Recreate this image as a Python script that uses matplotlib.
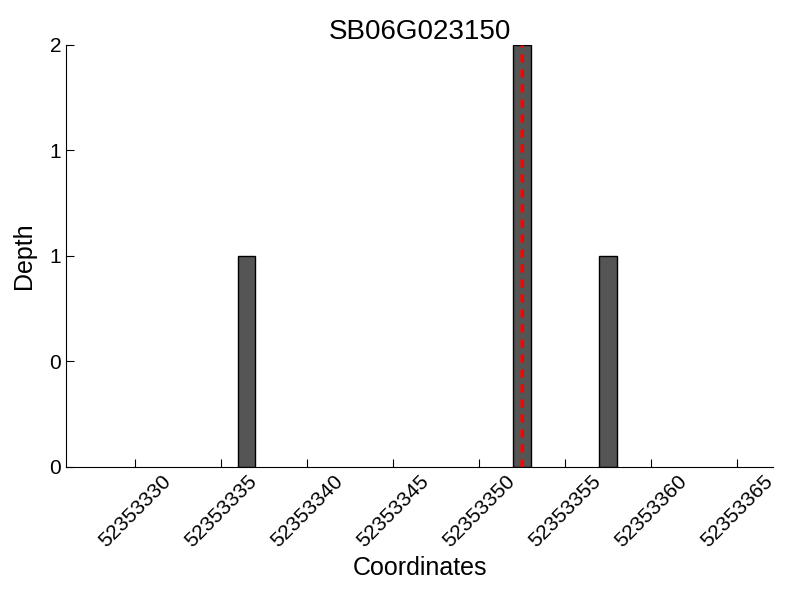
import matplotlib
matplotlib.use('Agg')
import matplotlib.pyplot as plt
from matplotlib.ticker import FormatStrFormatter

plt.rcParams['font.family'] = ['Liberation Sans', 'DejaVu Sans']

title = 'SB06G023150'
positions = [52353336, 52353352, 52353357]
depths = [1, 2, 1]
marker_pos = 52353352.5
x_ticks = [52353330, 52353335, 52353340, 52353345, 52353350, 52353355, 52353360, 52353365]
y_ticks = [0, 0.5, 1, 1.5, 2]

fig = plt.figure(figsize=(8, 6), dpi=100)
ax = fig.add_axes([0.0825, 0.222, 0.884, 0.703])

ax.bar(positions, depths, width=1, align='edge', color='#555555', edgecolor='black', linewidth=1)
ax.axvline(marker_pos, color='#ff0000', linestyle='--', linewidth=2.4, dashes=(2.4, 2.1), zorder=5)

ax.set_xlim(52353326, 52353367.1)
ax.set_ylim(0, 2)
ax.set_xticks(x_ticks)
ax.set_xticklabels([str(t) for t in x_ticks], rotation=45)
ax.set_yticks(y_ticks)
ax.yaxis.set_major_formatter(FormatStrFormatter('%d'))
ax.tick_params(direction='in', labelsize=15, length=6)
ax.spines['top'].set_visible(False)
ax.spines['right'].set_visible(False)

ax.set_xlabel('Coordinates', fontsize=18)
ax.set_ylabel('Depth', fontsize=18, labelpad=10)
ax.set_title(title, fontsize=20, pad=4)

fig.savefig('out.png', dpi=100)
